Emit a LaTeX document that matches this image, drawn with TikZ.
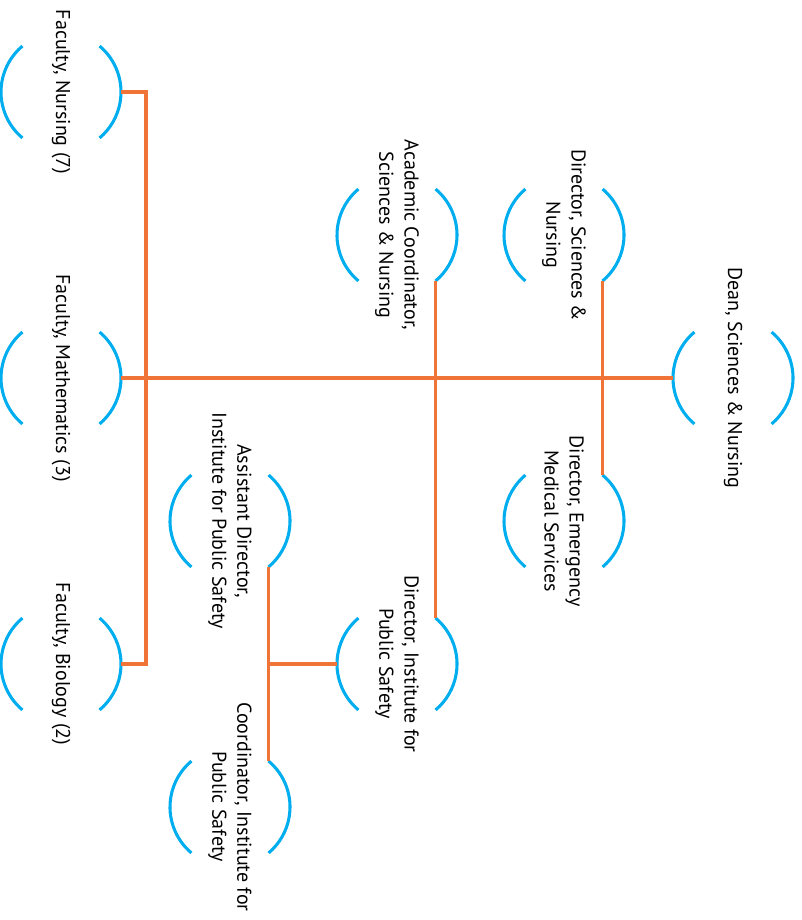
\documentclass[tikz,border=0pt]{standalone}
\usepackage{fontspec}
\setmainfont{PT Sans}
\usepackage{tikz}
\definecolor{chartorange}{RGB}{240,116,56}
\definecolor{chartblue}{RGB}{0,174,239}
\newcommand{\roleframe}[1]{%
    \draw [bracket] ([shift={(-50:60)}]#1.center) arc[start angle=-50,end angle=50,radius=60];
    \draw [bracket] ([shift={(130:60)}]#1.center) arc[start angle=130,end angle=230,radius=60];
    \coordinate (#1-e)  at ([shift={(60,0)}]#1.center);
    \coordinate (#1-w)  at ([shift={(-60,0)}]#1.center);
    \coordinate (#1-ne) at ([shift={(-50:60)}]#1.center);
    \coordinate (#1-se) at ([shift={(50:60)}]#1.center);
}
\begin{document}
\begin{tikzpicture}[line cap=butt,line join=miter,x=0.75pt,y=-0.75pt,
    role/.style={rotate=-90,align=center,inner sep=0pt,font=\fontsize{15}{18.8}\selectfont},
    bracket/.style={line width=2.3pt,chartblue},
    link/.style={line width=2.3pt,chartorange}]
    \useasboundingbox (0,0) rectangle (801,920);
    \node[role] (fnur)  at (61,92)   {Faculty, Nursing (7)};
    \node[role] (fmath) at (61,378)  {Faculty, Mathematics (3)};
    \node[role] (fbio)  at (61,664)  {Faculty, Biology (2)};
    \node[role] (asst)  at (230,521) {Assistant Director,\\Institute for Public Safety};
    \node[role] (cips)  at (230,807) {Coordinator, Institute for\\Public Safety};
    \node[role] (acad)  at (397,235) {Academic Coordinator,\\Sciences \& Nursing};
    \node[role] (dips)  at (397,664) {Director, Institute for\\Public Safety};
    \node[role] (dsn)   at (564,235) {Director, Sciences \&\\Nursing};
    \node[role] (ems)   at (564,521) {Director, Emergency\\Medical Services};
    \node[role] (dean)  at (733,378) {Dean, Sciences \& Nursing};
    \foreach \n in {fnur,fmath,fbio,asst,cips,acad,dips,dsn,ems,dean}
        {\roleframe{\n}}
    % connectors
    \draw [link] (fnur-e) -- ++(25,0) |- (fbio-e);
    \draw [link] (fmath-e) -- (dean-w);
    \draw [link] (acad-se) -- (dips-ne);
    \draw [link] (dsn-se) -- (ems-ne);
    \draw [link] (asst-se) -- (cips-ne);
    \draw [link] (dips-w) -- (dips-w -| asst-se);
\end{tikzpicture}
\end{document}
